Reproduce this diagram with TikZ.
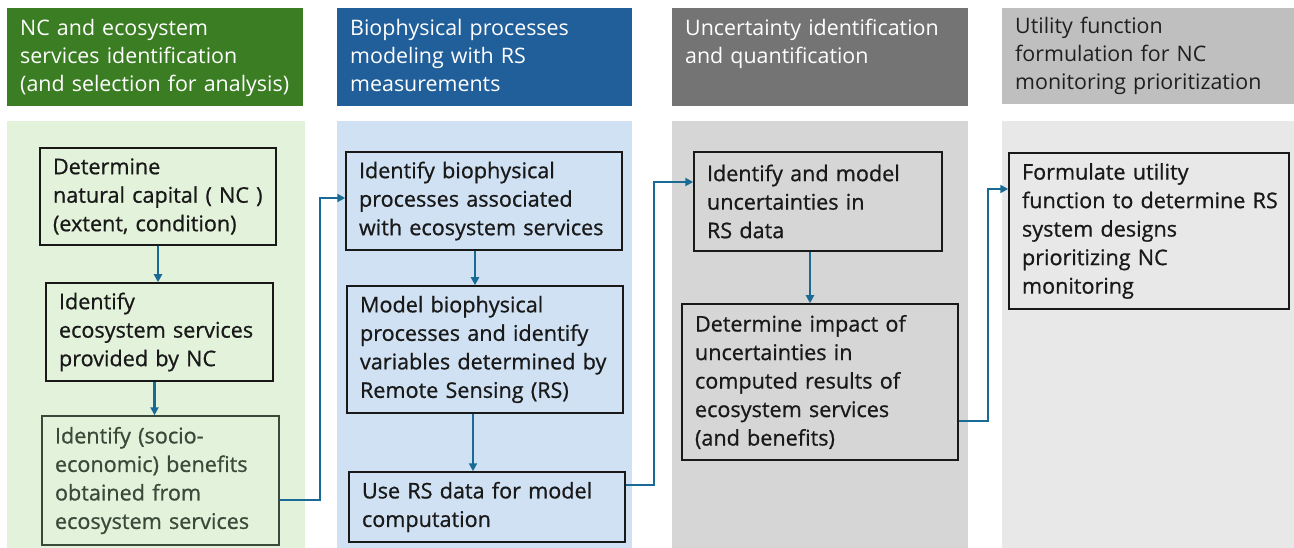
\documentclass[tikz,border=0pt]{standalone}
\usepackage{fontspec}
\setmainfont{Open Sans}
\newfontfamily\bodyfont{Open Sans}[RawFeature={embolden=0.8}]
\usetikzlibrary{arrows.meta}
\definecolor{hgreen}{HTML}{3B7D23}
\definecolor{hblue}{HTML}{215F9A}
\definecolor{hdgray}{HTML}{747474}
\definecolor{hlgray}{HTML}{BFBFBF}
\definecolor{bgreen}{HTML}{E3F2DA}
\definecolor{bblue}{HTML}{CFE1F2}
\definecolor{bgray}{HTML}{D6D6D6}
\definecolor{blgray}{HTML}{E8E8E8}
\definecolor{connc}{HTML}{1A6A96}
\definecolor{dtext}{HTML}{3A4A3A}
\newcommand\oneline[1]{\mbox{#1}}
\begin{document}
\begin{tikzpicture}[x=1pt,y=-1pt,
  box/.style={draw=black!90, line width=1.5pt, align=left, inner xsep=13pt, inner ysep=0pt,
    font=\bodyfont\fontsize{21.6}{28.5}\selectfont, text=black!90},
  htext/.style={anchor=base west, align=left, inner sep=0pt, text width=270pt,
    font=\fontsize{21.4}{28}\selectfont},
  conn/.style={draw=connc, line width=2.3pt, -{Triangle[length=8pt,width=8pt]}},
]
\useasboundingbox (0,0) rectangle (1294,548);
\fill[white] (0,0) rectangle (1294,548);
% column backgrounds
\fill[bgreen] (7,121) rectangle (305,548);
\fill[bblue] (337,121) rectangle (632,548);
\fill[bgray] (672,121) rectangle (968,548);
\fill[blgray] (1002,121) rectangle (1294,548);
% headers
\fill[hgreen] (7,8) rectangle (303,106);
\fill[hblue] (337,8) rectangle (632,106);
\fill[hdgray] (672,8) rectangle (968,106);
\fill[hlgray] (1002,8) rectangle (1294,104);
\node[htext, text=white] (h1) at (20,36) {\oneline{NC and ecosystem}\\\oneline{services identification}\\\oneline{(and selection for analysis)}};
\node[htext, text=white] (h2) at (350,36) {\oneline{Biophysical processes}\\\oneline{modeling with RS}\\\oneline{measurements}};
\node[htext, text=white] (h3) at (685,36) {\oneline{Uncertainty identification}\\\oneline{and quantification}};
\node[htext, text=black!88] (h4) at (1015,34) {\oneline{Utility function}\\\oneline{formulation for NC}\\\oneline{monitoring prioritization}};
% boxes column 1
\node[box, text width=210pt, minimum height=97pt] (b11) at (158,196.5) {\oneline{Determine}\\\oneline{natural capital ( NC )}\\\oneline{(extent, condition)}};
\node[box, text width=201pt, minimum height=98pt] (b12) at (159.5,332) {\oneline{Identify}\\\oneline{ecosystem services}\\\oneline{provided by NC}};
\node[box, draw=dtext, text=dtext, text width=211pt, minimum height=129pt] (b13) at (160.5,480.5) {\oneline{Identify (socio-}\\\oneline{economic) benefits}\\\oneline{obtained from}\\\oneline{ecosystem services}};
% column 2
\node[box, text width=250pt, minimum height=98pt] (b21) at (484,201) {\oneline{Identify biophysical}\\\oneline{processes associated}\\\oneline{with ecosystem services}};
\node[box, text width=250pt, minimum height=127pt] (b22) at (485,349.5) {\oneline{Model biophysical}\\\oneline{processes and identify}\\\oneline{variables determined by}\\\oneline{Remote Sensing (RS)}};
\node[box, text width=250pt, minimum height=70pt] (b23) at (487,507) {\oneline{Use RS data for model}\\\oneline{computation}};
% column 3
\node[box, text width=222pt, minimum height=99pt] (b31) at (818,201.5) {\oneline{Identify and model}\\\oneline{uncertainties in}\\\oneline{RS data}};
\node[box, text width=250pt, minimum height=156pt] (b32) at (820,382) {\oneline{Determine impact of}\\\oneline{uncertainties in}\\\oneline{computed results of}\\\oneline{ecosystem services}\\\oneline{(and benefits)}};
% column 4
\node[box, text width=254pt, minimum height=156pt] (b41) at (1149,231) {\oneline{Formulate utility}\\\oneline{function to determine RS}\\\oneline{system designs}\\\oneline{prioritizing NC}\\\oneline{monitoring}};
% vertical arrows
\draw[conn] (b11.south) -- (b11.south |- b12.north);
\draw[conn] ([xshift=-5pt]b12.south) -- ([xshift=-5pt]b12.south |- b13.north);
\draw[conn] ([xshift=-9pt]b21.south) -- ([xshift=-9pt]b21.south |- b22.north);
\draw[conn] ([xshift=-12pt]b22.south) -- ([xshift=-12pt]b22.south |- b23.north);
\draw[conn] ([xshift=-8pt]b31.south) -- ([xshift=-8pt]b31.south |- b32.north);
% cross-column connectors
\coordinate (j1) at (320,500);
\coordinate (j2) at (654,485);
\coordinate (j3) at (988,421);
\draw[conn] ([yshift=-19.5pt]b13.east) -- (j1) |- ([yshift=3pt]b21.west);
\draw[conn] ([yshift=22pt]b23.east) -- (j2) |- ([yshift=19.5pt]b31.west);
\draw[conn] ([yshift=-39pt]b32.east) -- (j3) |- ([yshift=42pt]b41.west);
\end{tikzpicture}
\end{document}
